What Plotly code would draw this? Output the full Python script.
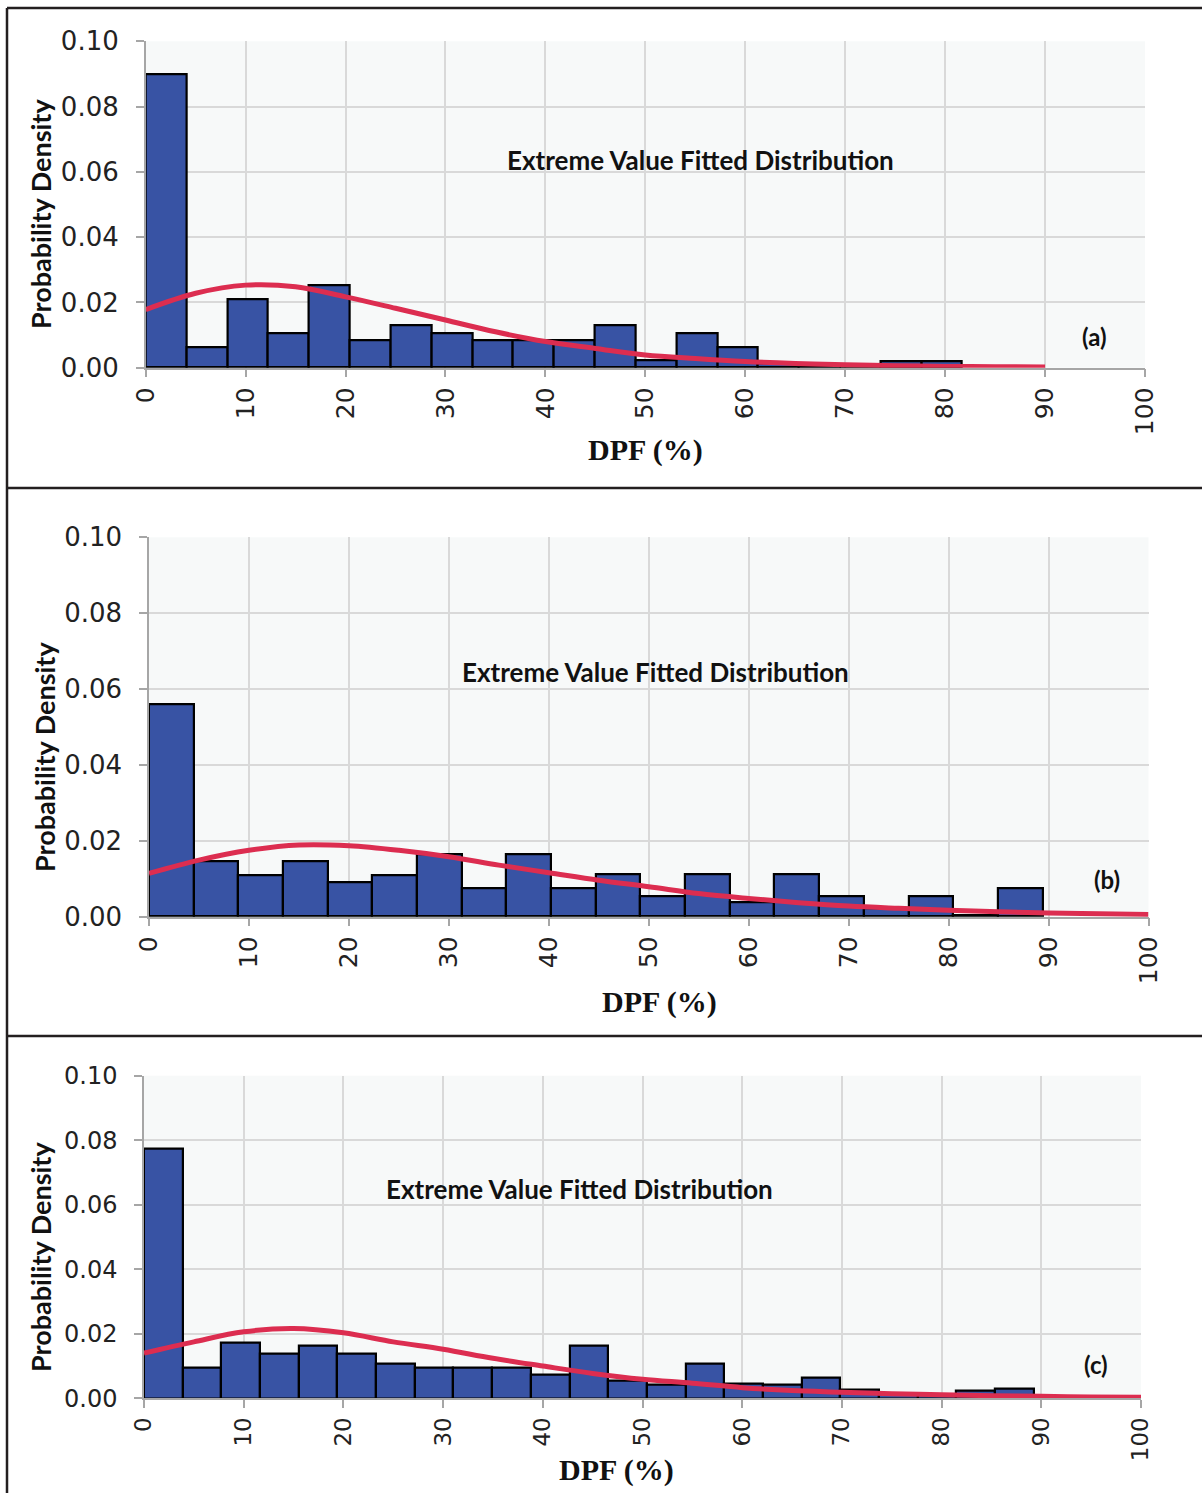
import plotly.graph_objects as go

# ---------------- data ----------------
x_ticks = [0, 10, 20, 30, 40, 50, 60, 70, 80, 90, 100]
y_ticks = [0.00, 0.02, 0.04, 0.06, 0.08, 0.10]

# panel (a)
bin_width_a = 4.085
heights_a = [0.0900, 0.0062, 0.0209, 0.0105, 0.0251, 0.0085, 0.0129, 0.0105,
             0.0085, 0.0085, 0.0085, 0.0129, 0.0023, 0.0105, 0.0064, 0.0015,
             0.0004, 0.0000, 0.0021, 0.0021]
curve_x_a = [0, 5, 10, 15, 20, 25, 30, 35, 40, 45, 50, 55, 60, 65, 70, 75, 80, 85, 90]
curve_y_a = [0.0178, 0.0228, 0.0253, 0.0248, 0.0217, 0.0182, 0.0146, 0.0110,
             0.0080, 0.0059, 0.0039, 0.0028, 0.0019, 0.0013, 0.0009, 0.0006,
             0.0004, 0.0003, 0.0002]

# panel (b)
bin_width_b = 4.47
heights_b = [0.0561, 0.0147, 0.0110, 0.0147, 0.0092, 0.0110, 0.0164, 0.0075,
             0.0164, 0.0075, 0.0112, 0.0054, 0.0112, 0.0037, 0.0112, 0.0054,
             0.0022, 0.0054, 0.0003, 0.0075]
curve_x_b = [0, 5, 10, 15, 20, 25, 30, 35, 40, 45, 50, 55, 60, 65, 70, 75, 80, 85, 90, 95, 100]
curve_y_b = [0.0114, 0.0149, 0.0175, 0.0189, 0.0187, 0.0175, 0.0158, 0.0136,
             0.0116, 0.0096, 0.0079, 0.0061, 0.0048, 0.0037, 0.0028, 0.0022,
             0.0017, 0.0013, 0.0010, 0.0008, 0.0006]

# panel (c)
bin_width_c = 3.88
heights_c = [0.0775, 0.0096, 0.0172, 0.0139, 0.0162, 0.0139, 0.0106, 0.0096,
             0.0096, 0.0096, 0.0074, 0.0162, 0.0055, 0.0041, 0.0106, 0.0046,
             0.0041, 0.0065, 0.0026, 0.0015, 0.0010, 0.0023, 0.0031]
curve_x_c = [0, 5, 10, 15, 20, 25, 30, 35, 40, 45, 50, 55, 60, 65, 70, 75, 80, 85, 90, 95, 100]
curve_y_c = [0.0140, 0.0175, 0.0206, 0.0216, 0.0203, 0.0175, 0.0152, 0.0124,
             0.0100, 0.0077, 0.0059, 0.0047, 0.0033, 0.0024, 0.0019, 0.0014,
             0.0011, 0.0008, 0.0006, 0.0004, 0.0003]

panel_labels = ["(a)", "(b)", "(c)"]
annotation_text = "Extreme Value Fitted Distribution"
x_title = "DPF (%)"
y_title = "Probability Density"

# ---------------- layout geometry (pixels) ----------------
W, H = 1202, 1493
plot_boxes = [  # x0, x1, y0(top), y1(bottom)
    (145.7, 1145.0, 41.3, 367.7),
    (149.0, 1148.5, 537.3, 916.7),
    (144.0, 1141.0, 1075.7, 1398.3),
]
ann_pos = [(55.5, 0.0636), (50.7, 0.0645), (43.7, 0.0649)]
lab_pos = [(94.9, 0.0097), (95.8, 0.0097), (95.5, 0.0106)]
ytitle_pos = [(40, 214), (44, 757), (40, 1257)]
xtitle_pos = [(645, 450), (659, 1002), (616, 1470)]
tick_sizes = [26, 26, 24]

BLUE = "#3853A4"
RED = "#DC2D50"
GRID = "#D9D9D9"
AXIS = "#A6A6A6"

panels = [
    (bin_width_a, heights_a, curve_x_a, curve_y_a),
    (bin_width_b, heights_b, curve_x_b, curve_y_b),
    (bin_width_c, heights_c, curve_x_c, curve_y_c),
]

fig = go.Figure()
annotations = []
for i, (bw, hts, cx, cy) in enumerate(panels):
    xa = "x" if i == 0 else f"x{i+1}"
    ya = "y" if i == 0 else f"y{i+1}"
    centers = [bw * (k + 0.5) for k in range(len(hts))]
    fig.add_trace(go.Bar(
        x=centers, y=hts, width=[bw] * len(hts),
        marker=dict(color=BLUE, line=dict(color="black", width=2.2)),
        xaxis=xa, yaxis=ya, showlegend=False,
    ))
    fig.add_trace(go.Scatter(
        x=cx, y=cy, mode="lines", line=dict(color=RED, width=5, shape="spline"),
        xaxis=xa, yaxis=ya, showlegend=False,
    ))

    x0, x1, y0, y1 = plot_boxes[i]
    ts = tick_sizes[i]
    xkey = "xaxis" if i == 0 else f"xaxis{i+1}"
    ykey = "yaxis" if i == 0 else f"yaxis{i+1}"
    fig.update_layout(**{
        xkey: dict(
            domain=[x0 / W, x1 / W], anchor=ya, range=[0, 100], automargin=False,
            tickmode="array", tickvals=x_ticks, ticktext=[str(v) for v in x_ticks],
            tickangle=-90, ticks="outside", ticklen=8, tickcolor=AXIS, tickwidth=1.5,
            showgrid=True, gridcolor=GRID, gridwidth=1.5,
            showline=True, linecolor=AXIS, linewidth=1.5,
            tickfont=dict(family="DejaVu Sans", size=ts - 1, color="#222"),
            zeroline=False,
        ),
        ykey: dict(
            domain=[1 - y1 / H, 1 - y0 / H], anchor=xa, range=[0, 0.1], automargin=False,
            tickmode="array", tickvals=y_ticks, ticktext=[f"{v:.2f}" for v in y_ticks],
            ticks="outside", ticklen=8, tickcolor=AXIS, tickwidth=1.5,
            showgrid=True, gridcolor=GRID, gridwidth=1.5,
            showline=True, linecolor=AXIS, linewidth=1.5,
            tickfont=dict(family="DejaVu Sans", size=ts, color="#222"),
            ticklabelstandoff=12, zeroline=False,
        ),
    })
    common = dict(showarrow=False, xanchor="center", yanchor="middle")
    annotations.append(dict(
        x=ann_pos[i][0], y=ann_pos[i][1], xref=xa, yref=ya, text=annotation_text,
        font=dict(family="Lato", size=26, color="#111", weight="bold"), **common,
    ))
    annotations.append(dict(
        x=lab_pos[i][0], y=lab_pos[i][1], xref=xa, yref=ya, text=panel_labels[i],
        font=dict(family="Lato", size=24, color="#111", weight="bold"), **common,
    ))
    annotations.append(dict(
        x=ytitle_pos[i][0] / W, y=1 - ytitle_pos[i][1] / H, xref="paper", yref="paper",
        text=y_title, textangle=-90,
        font=dict(family="Lato", size=27, color="#111", weight="bold"), **common,
    ))
    annotations.append(dict(
        x=xtitle_pos[i][0] / W, y=1 - xtitle_pos[i][1] / H, xref="paper", yref="paper",
        text=x_title,
        font=dict(family="Liberation Serif", size=30, color="#111", weight="bold"), **common,
    ))

shapes = []
BORDER = "#231F20"
for (xa0, ya0, xa1, ya1) in [(7, 8, 7, H), (7, 8, W, 8), (7, 488, W, 488), (7, 1036, W, 1036)]:
    shapes.append(dict(type="line", xref="paper", yref="paper",
                       x0=xa0 / W, y0=1 - ya0 / H, x1=xa1 / W, y1=1 - ya1 / H,
                       line=dict(color=BORDER, width=2.5)))

fig.update_layout(
    width=W, height=H, margin=dict(l=0, r=0, t=0, b=0, autoexpand=False),
    paper_bgcolor="white", plot_bgcolor="#F7F9F9",
    bargap=0, annotations=annotations, shapes=shapes,
)

fig.write_html(
    "out.html",
    config={"displayModeBar": False},
    post_script="document.body.style.margin='0';document.body.style.overflow='hidden';",
)
